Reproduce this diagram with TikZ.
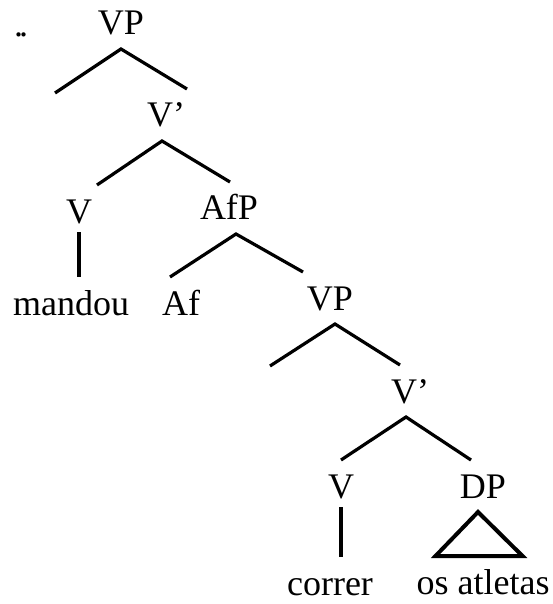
\documentclass[tikz,border=0pt]{standalone}
\usepackage{fontspec}
\setmainfont{Liberation Serif}

\begin{document}
\begin{tikzpicture}[x = 0.5pt, y = -0.5pt, line width = 1.6pt]
	\tikzstyle{catStyle} = [inner sep = 0pt, outer sep = 7pt, text height = 12pt, text depth = 0pt, anchor = base, font = \fontsize{18}{20}\selectfont]
	\tikzstyle{roofStyle} = [line width = 2pt, line join = miter]
	\useasboundingbox (0, 0) rectangle (552, 604);
	\node[catStyle, anchor = base west] (ex) at (0, 37) {.\kern-2pt.};
	\node[catStyle] (vp1) at (121, 35) {VP};
	\node[catStyle] (vbar1) at (166, 127) {V'};
	\node[catStyle] (v1) at (79, 223) {V};
	\node[catStyle] (afp) at (229, 220) {AfP};
	\node[catStyle] (man) at (71, 315) {mandou};
	\node[catStyle] (af) at (181, 315) {Af};
	\node[catStyle] (vp2) at (330, 310) {VP};
	\node[catStyle] (vbar2) at (410, 403) {V'};
	\node[catStyle] (v2) at (341, 498) {V};
	\node[catStyle] (dp) at (483, 498) {DP};
	\node[catStyle] (cor) at (330, 595) {correr};
	\node[catStyle] (atl) at (483, 594) {os atletas};
	\coordinate (spec1) at (55, 93);
	\coordinate (spec2) at (270, 366);
	\draw (spec1) -- (vp1.south) -- ([xshift = 10.5pt]vbar1.north);
	\draw ([xshift = 9pt]v1.north) -- ([xshift = -2pt]vbar1.south) -- ([xshift = 0.5pt]afp.north);
	\draw ([yshift = 2.5pt]v1.south) -- (v1.south |- man.north);
	\draw ([xshift = -5.5pt]af.north) -- ([xshift = 3.5pt]afp.south) -- ([xshift = -13.5pt]vp2.north);
	\draw (spec2) -- ([xshift = 2.5pt]vp2.south) -- ([xshift = -5pt]vbar2.north);
	\draw (v2.north) -- ([xshift = -2pt]vbar2.south) -- ([xshift = -6pt]dp.north);
	\draw ([yshift = 2.5pt]v2.south) -- (v2.south |- cor.north);
	\draw[roofStyle] ([xshift = -2.5pt]dp.south) -- ([xshift = -23.75pt]atl.north) -- ([xshift = 19.75pt]atl.north) -- cycle;
\end{tikzpicture}
\end{document}
